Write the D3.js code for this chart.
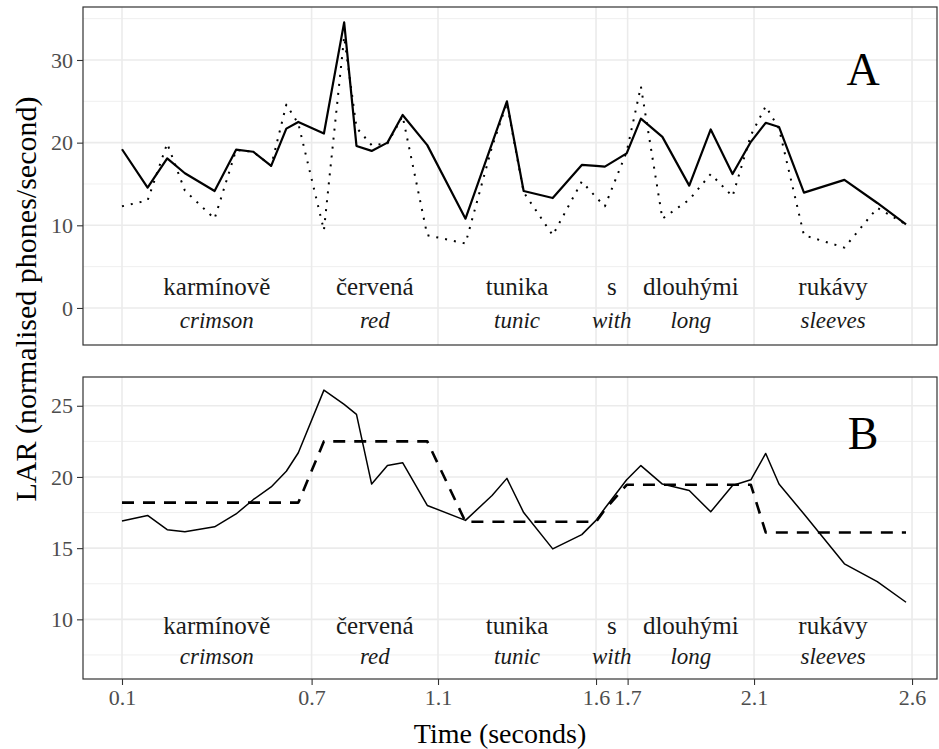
<!DOCTYPE html>
<html>
<head>
<meta charset="utf-8">
<script src="https://cdn.jsdelivr.net/npm/d3@7"></script>
<style>
  body { margin: 0; background: #fff; }
  text { font-family: "Liberation Serif", "Times New Roman", serif; }
</style>
</head>
<body>
<svg width="939" height="749"></svg>
<script>
// Sample times (seconds)
const times = [0.10, 0.181, 0.243, 0.299, 0.393, 0.461, 0.515, 0.572, 0.62, 0.658,
  0.739, 0.803, 0.842, 0.89, 0.94, 0.988, 1.066, 1.187, 1.271, 1.318,
  1.371, 1.463, 1.555, 1.60, 1.628, 1.697, 1.742, 1.81, 1.895, 1.963,
  2.032, 2.09, 2.137, 2.179, 2.258, 2.386, 2.49, 2.581];

// Panel A: solid and dotted series
const larA = [19.2, 14.55, 18.1, 16.3, 14.15, 19.15, 18.9, 17.2, 21.7, 22.5,
  21.1, 34.55, 19.6, 19.0, 20.0, 23.35, 19.7, 10.8, 19.9, 25.0,
  14.15, 13.3, 17.3, 17.2, 17.1, 18.7, 22.9, 20.7, 14.8, 21.6,
  16.2, 20.1, 22.4, 21.9, 13.95, 15.5, 12.7, 10.1];
const larADotted = [12.3, 13.0, 19.9, 14.2, 10.8, 19.1, 18.9, 17.2, 24.6, 22.3,
  9.4, 32.8, 21.8, 19.7, 19.9, 23.2, 8.8, 7.8, 19.5, 24.8,
  14.0, 8.8, 15.3, 13.4, 12.3, 18.9, 26.8, 10.8, 13.1, 16.2,
  13.5, 20.9, 24.4, 21.7, 8.8, 7.3, 12.1, 10.1];

// Panel B: solid and dashed (word mean) series
const larB = [16.9, 17.3, 16.3, 16.15, 16.5, 17.4, 18.4, 19.3, 20.4, 21.7,
  26.1, 25.1, 24.4, 19.5, 20.8, 21.0, 18.0, 16.95, 18.7, 19.9,
  17.5, 14.95, 15.95, 16.95, 17.8, 19.8, 20.8, 19.5, 19.05, 17.55,
  19.4, 19.8, 21.65, 19.5, 17.4, 13.9, 12.65, 11.2];
const larBWord = [18.2, 18.2, 18.2, 18.2, 18.2, 18.2, 18.2, 18.2, 18.2, 18.2,
  22.5, 22.5, 22.5, 22.5, 22.5, 22.5, 22.5, 16.85, 16.85, 16.85,
  16.85, 16.85, 16.85, 16.85, 17.7, 19.45, 19.45, 19.45, 19.45, 19.45,
  19.45, 19.45, 16.1, 16.1, 16.1, 16.1, 16.1, 16.1];

const xTicks = [0.1, 0.7, 1.1, 1.6, 1.7, 2.1, 2.6];
const yTicksA = [0, 10, 20, 30];
const yMinorA = [5, 15, 25, 35];
const yTicksB = [10, 15, 20, 25];
const yMinorB = [7.5, 12.5, 17.5, 22.5];

const wordsCz = ["karmínově", "červená", "tunika", "s", "dlouhými", "rukávy"];
const wordsEn = ["crimson", "red", "tunic", "with", "long", "sleeves"];
const wordMid = [0.4, 0.9, 1.35, 1.65, 1.9, 2.35];

const svg = d3.select("svg");
const left = 83, right = 937;

const x = d3.scaleLinear().domain([-0.0234, 2.679]).range([left, right]);

function drawPanel(cfg) {
  const y = d3.scaleLinear().domain(cfg.domain).range([cfg.bottom, cfg.top]);
  const g = svg.append("g");

  // grid
  g.selectAll(".minor").data(cfg.minor).enter().append("line")
    .attr("x1", left).attr("x2", right)
    .attr("y1", d => y(d)).attr("y2", d => y(d))
    .attr("stroke", "#ebebeb").attr("stroke-width", 0.8);
  g.selectAll(".major").data(cfg.ticks).enter().append("line")
    .attr("x1", left).attr("x2", right)
    .attr("y1", d => y(d)).attr("y2", d => y(d))
    .attr("stroke", "#ebebeb").attr("stroke-width", 1.6);
  g.selectAll(".vgrid").data(xTicks).enter().append("line")
    .attr("x1", d => x(d)).attr("x2", d => x(d))
    .attr("y1", cfg.top).attr("y2", cfg.bottom)
    .attr("stroke", "#ebebeb").attr("stroke-width", 1.6);

  // word labels
  g.selectAll(".cz").data(wordsCz).enter().append("text")
    .attr("x", (d, i) => x(wordMid[i])).attr("y", y(cfg.wordY))
    .attr("text-anchor", "middle").attr("font-size", 25).attr("fill", "#1a1a1a")
    .text(d => d);
  g.selectAll(".en").data(wordsEn).enter().append("text")
    .attr("x", (d, i) => x(wordMid[i])).attr("y", y(cfg.glossY))
    .attr("text-anchor", "middle").attr("font-size", 23).attr("font-style", "italic")
    .attr("fill", "#1a1a1a")
    .text(d => d);

  // lines
  const line = d3.line().x(d => x(d[0])).y(d => y(d[1]));
  cfg.series.forEach(s => {
    g.append("path")
      .attr("d", line(times.map((t, i) => [t, s.values[i]])))
      .attr("fill", "none").attr("stroke", "#000")
      .attr("stroke-width", s.width)
      .attr("stroke-dasharray", s.dash)
      .attr("stroke-linejoin", "round");
  });

  // panel letter
  g.append("text")
    .attr("x", x(cfg.tagX)).attr("y", y(cfg.tagY))
    .attr("text-anchor", "middle").attr("font-size", 46).attr("fill", "#000")
    .text(cfg.tag);

  // border
  g.append("rect")
    .attr("x", left).attr("y", cfg.top)
    .attr("width", right - left).attr("height", cfg.bottom - cfg.top)
    .attr("fill", "none").attr("stroke", "#333").attr("stroke-width", 1.2);

  // y axis
  const ya = g.append("g").attr("transform", `translate(${left},0)`)
    .call(d3.axisLeft(y).tickValues(cfg.ticks).tickSize(6).tickPadding(4).tickFormat(d3.format("d")));
  ya.select(".domain").remove();
  ya.selectAll("line").attr("stroke", "#333").attr("stroke-width", 1.1);
  ya.selectAll("text").attr("font-size", 22).attr("fill", "#4d4d4d")
    .attr("font-family", "Liberation Serif, serif");
  return y;
}

drawPanel({
  top: 7, bottom: 345, domain: [-4.48, 36.41],
  ticks: yTicksA, minor: yMinorA,
  wordY: 1.57, glossY: -2.42,
  tag: "A", tagX: 2.445, tagY: 26.96,
  series: [
    { values: larADotted, width: 2, dash: "2,7" },
    { values: larA, width: 2.2, dash: null }
  ]
});

drawPanel({
  top: 377, bottom: 679, domain: [5.81, 27.02],
  ticks: yTicksB, minor: yMinorB,
  wordY: 9.0, glossY: 6.88,
  tag: "B", tagX: 2.445, tagY: 21.95,
  series: [
    { values: larBWord, width: 2.6, dash: "12,9" },
    { values: larB, width: 1.5, dash: null }
  ]
});

// x axis (bottom panel only)
const xa = svg.append("g").attr("transform", "translate(0,679)")
  .call(d3.axisBottom(x).tickValues(xTicks).tickSize(6).tickPadding(4).tickFormat(d => d));
xa.select(".domain").remove();
xa.selectAll("line").attr("stroke", "#333").attr("stroke-width", 1.1);
xa.selectAll("text").attr("font-size", 22).attr("fill", "#4d4d4d")
  .attr("font-family", "Liberation Serif, serif");

// axis titles
svg.append("text")
  .attr("x", 500).attr("y", 743)
  .attr("text-anchor", "middle").attr("font-size", 28).attr("fill", "#000")
  .text("Time (seconds)");
svg.append("text")
  .attr("transform", "translate(36,299) rotate(-90)")
  .attr("text-anchor", "middle").attr("font-size", 30).attr("fill", "#000")
  .text("LAR (normalised phones/second)");
</script>
</body>
</html>
